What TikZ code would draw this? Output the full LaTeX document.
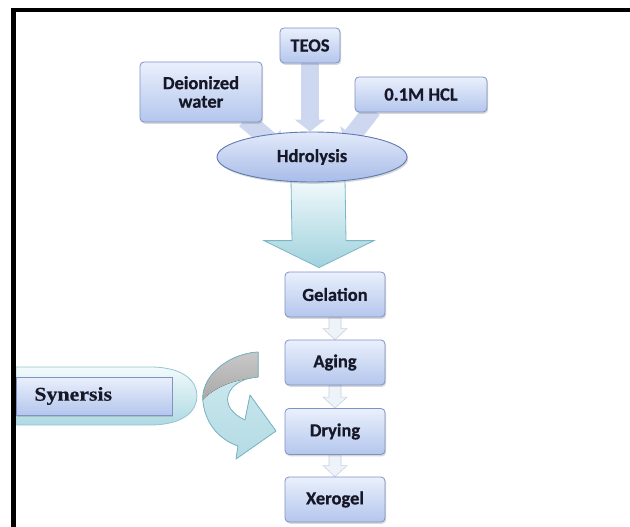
\documentclass[tikz,border=0pt]{standalone}
\usepackage{fontspec}
\setmainfont{Carlito}[BoldFeatures={FakeBold=0.6}]
\newfontfamily\synfont{Liberation Serif}[FakeStretch=1.12,BoldFeatures={FakeBold=0.4}]
\usetikzlibrary{shapes.geometric,shadows,arrows.meta,calc}
\pgfdeclarelayer{bg}
\pgfsetlayers{bg,main}
\definecolor{boxtop}{RGB}{234,240,252}
\definecolor{boxbot}{RGB}{180,198,237}
\definecolor{boxline}{RGB}{128,146,196}
\definecolor{elltop}{RGB}{226,234,250}
\definecolor{ellbot}{RGB}{168,188,232}
\definecolor{ellline}{RGB}{96,120,180}
\definecolor{inarrow}{RGB}{205,216,240}
\definecolor{cyantop}{RGB}{242,250,252}
\definecolor{cyanbot}{RGB}{160,210,221}
\definecolor{cyanline}{RGB}{122,182,196}
\definecolor{chevfill}{RGB}{238,242,249}
\definecolor{chevline}{RGB}{200,210,226}
\definecolor{greytop}{RGB}{205,205,205}
\definecolor{greybot}{RGB}{165,165,165}
\definecolor{txt}{RGB}{22,24,40}
\tikzset{
  flowbox/.style={rectangle, rounded corners=4pt, draw=boxline, line width=0.8pt,
    top color=boxtop, bottom color=boxbot, text=txt, align=center, inner sep=2pt,
    font=\fontsize{18.5}{18.5}\selectfont\bfseries,
    drop shadow={shadow xshift=1.2pt, shadow yshift=-1.8pt, opacity=0.3}},
  ellbox/.style={ellipse, draw=ellline, line width=0.9pt, top color=elltop, bottom color=ellbot,
    text=txt, inner sep=0pt, font=\fontsize{18.5}{18.5}\selectfont\bfseries,
    drop shadow={shadow xshift=1.2pt, shadow yshift=-1.8pt, opacity=0.3}},
  inarr/.style={line width=18pt, draw=inarrow, -{Triangle[length=12pt,width=30pt]}},
  bigarr/.style={draw=cyanline, line width=0.8pt, top color=cyantop, bottom color=cyanbot},
  chevstyle/.style={draw=chevline, line width=0.6pt, fill=chevfill},
}
\newcommand\chevarr[2]{\draw[chevstyle] ($(#1.south)+(-6,0)$) -- ($(#1.south)+(6,0)$)
  -- ($(#2.north)+(6,-11)$) -- ($(#2.north)+(12,-11)$) -- (#2.north)
  -- ($(#2.north)+(-12,-11)$) -- ($(#2.north)+(-6,-11)$) -- cycle;}
\begin{document}
\begin{tikzpicture}[x=1pt,y=-1pt]
\useasboundingbox (0,0) rectangle (630,527);
\begin{pgfonlayer}{bg}
\fill[white] (0,0) rectangle (630,527);
\end{pgfonlayer}

% nodes
\node[flowbox, minimum width=60pt, minimum height=35pt] (teos) at (310,45.5) {TEOS};
\node[flowbox, minimum width=122pt, minimum height=60pt] (water) at (201,92) {Deionized\\water};
\node[flowbox, minimum width=132pt, minimum height=35pt] (hcl) at (421,94.5) {0.1M HCL};
\node[ellbox, minimum width=190pt, minimum height=50pt] (hyd) at (312,157) {Hdrolysis};
\node[flowbox, minimum width=100pt, minimum height=45pt] (gel) at (335,294.5) {Gelation};
\node[flowbox, minimum width=100pt, minimum height=45pt] (aging) at (335,362.5) {Aging};
\node[flowbox, minimum width=100pt, minimum height=46pt] (drying) at (335,431.5) {Drying};
\node[flowbox, minimum width=100pt, minimum height=45pt] (xero) at (335,499.5) {Xerogel};

\begin{pgfonlayer}{bg}
  % input arrows
  \draw[inarr] (teos.south) -- (teos.south |- hyd.north);
  \draw[inarr] ($(water.south)+(44,-3)$) -- ($(hyd.center)+(-32,-8)$);
  \draw[inarr] ($(hcl.south west)+(18,-3)$) -- ($(hyd.center)+(33,-12)$);
  % big arrow
  \coordinate (bigtop) at ($(hyd.south)+(6,-4)$);
  \coordinate (bigtip) at ($(gel.north)+(-16,-4)$);
  \draw[bigarr] ($(bigtop)+(-27,0)$) -- ($(bigtop)+(27,0)$) -- ($(bigtip)+(27,-27)$)
     -- ($(bigtip)+(55,-27)$) -- (bigtip) -- ($(bigtip)+(-55,-27)$)
     -- ($(bigtip)+(-27,-27)$) -- cycle;
  % small arrows
  \chevarr{gel}{aging}
  \chevarr{aging}{drying}
  \chevarr{drying}{xero}
\end{pgfonlayer}

% curved arrow
\def\curvepath{(258,352) .. controls (226,354) and (200,378) .. (203,402)
   .. controls (206,426) and (221,440) .. (238,446) -- (236,459) -- (276,431)
   -- (250,395) -- (245,420) .. controls (232,414) and (226,405) .. (228,396)
   .. controls (231,384) and (244,378) .. (258,377) -- cycle}
\fill[top color=cyantop!60!cyanbot, bottom color=cyanbot!80!white] \curvepath;
\begin{scope}
  \clip \curvepath;
  \fill[top color=greytop, bottom color=greybot] (199,404) .. controls (214,385) and (240,378) .. (260,378)
     -- (262,345) -- (195,345) -- cycle;
\end{scope}
\draw[cyanline, line width=0.8pt, line join=round] \curvepath;

% synersis
\draw[cyanline!80, line width=0.8pt, top color=cyantop, bottom color=cyanbot!85]
  (16,367) -- (150,367) .. controls (185,367) and (197,382) .. (197,396)
  .. controls (197,410) and (185,425) .. (150,425) -- (16,425) -- cycle;
\node[rectangle, draw=boxline, line width=0.8pt, top color=boxtop, bottom color=boxbot,
  anchor=west, minimum height=38pt, text width=120pt, inner xsep=18pt, align=left,
  text=txt, font=\synfont\fontsize{19.5}{20}\selectfont\bfseries,
  drop shadow={shadow xshift=1pt, shadow yshift=-1.5pt, opacity=0.3}] (syn) at (16,396) {Synersis};

% frame
\fill[black] (11,8) rectangle (630,12.5);
\fill[black] (11,8) rectangle (16,527);
\end{tikzpicture}
\end{document}
